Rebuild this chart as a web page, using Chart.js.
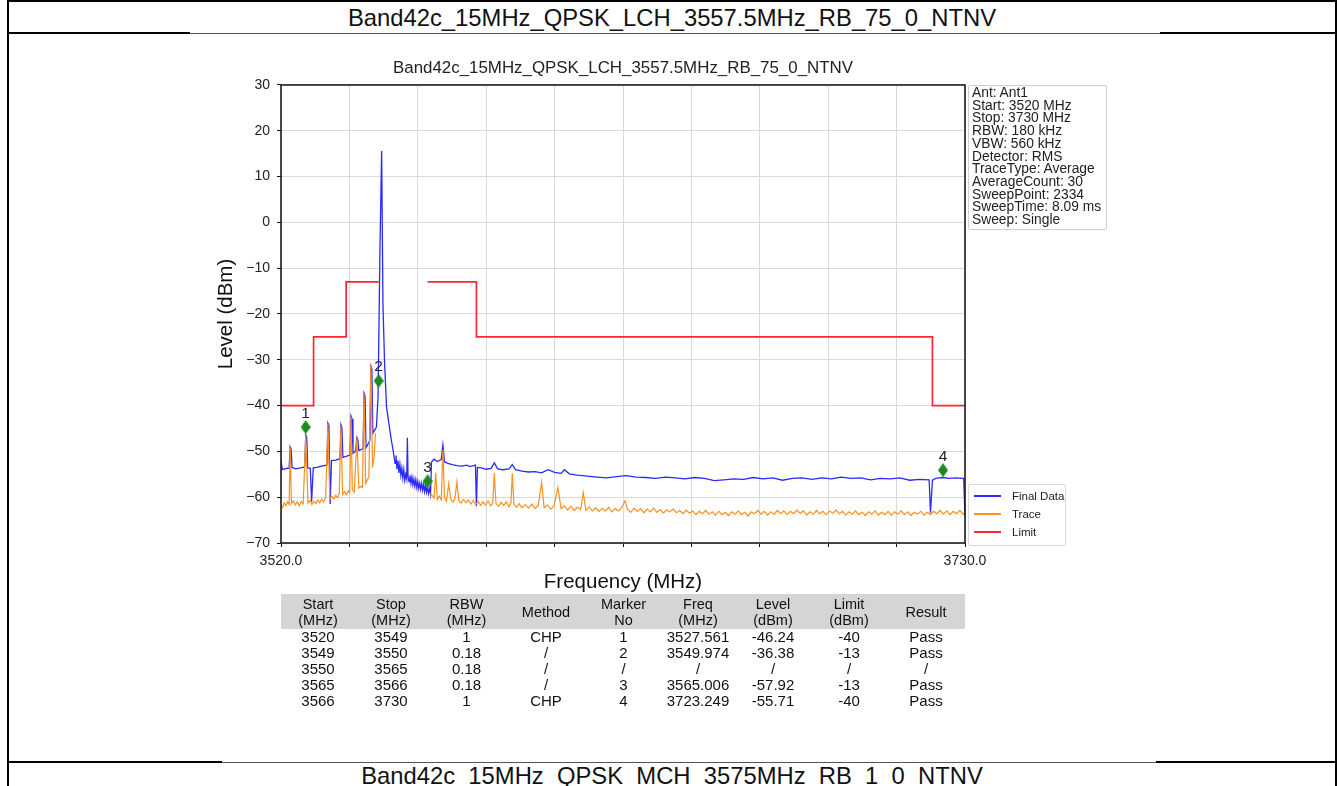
<!DOCTYPE html>
<html>
<head>
<meta charset="utf-8">
<script src="https://cdn.jsdelivr.net/npm/chart.js@4.4.1/dist/chart.umd.min.js"></script>
<style>
  body { margin: 0; background: #fff; font-family: "Liberation Sans", Arial, sans-serif; color: #111; }
  #page { position: relative; width: 1340px; height: 786px; overflow: hidden; background: #fff; }
  .line { position: absolute; background: #000; }
  .doc-title { position: absolute; left: 8px; width: 1328px; text-align: center; font-size: 23.8px; line-height: 26px; }
  #spec { position: absolute; left: 190px; top: 40px; }
  #info { position: absolute; left: 968px; top: 85px; width: 131px; height: 141px; padding: 1px 3px;
          border: 1px solid #cfcfcf; border-radius: 2px; font-size: 13.8px; line-height: 12.7px; color: #222; white-space: nowrap; }
  #legend { position: absolute; left: 968px; top: 484px; width: 96px; height: 60px;
            border: 1px solid #d8d8d8; border-radius: 2px; font-size: 11.5px; color: #222; }
  #legend .item { position: absolute; left: 5px; height: 14px; line-height: 14px; }
  #legend .sw { position: absolute; left: 0; top: 6px; width: 27px; height: 2px; }
  #legend .tx { position: absolute; left: 38px; top: 0; white-space: nowrap; }
  #tbl { position: absolute; left: 281px; top: 594px; width: 684px; border-collapse: collapse; table-layout: fixed;
         font-size: 15px; color: #111; }
  #tbl td { text-align: center; padding: 0; line-height: 16px; height: 16px; white-space: nowrap; }
  #tbl tr.head td { background: #d5d5d5; line-height: 16px; height: 35px; font-size: 14.5px; }
</style>
</head>
<body>
<div id="page">
  <div class="line" style="left:7px;top:0;width:1330px;height:2px"></div>
  <div class="line" style="left:7px;top:0;width:2px;height:786px"></div>
  <div class="line" style="left:1335px;top:0;width:2px;height:786px"></div>
  <div class="doc-title" style="top:5px">Band42c_15MHz_QPSK_LCH_3557.5MHz_RB_75_0_NTNV</div>
  <div class="line" style="left:8px;top:33px;width:1328px;height:1px;background:#555"></div>
  <div class="line" style="left:8px;top:32px;width:182px;height:2px"></div>
  <div class="line" style="left:1160px;top:32px;width:176px;height:2px"></div>
  <div class="line" style="left:8px;top:762px;width:1328px;height:1px;background:#555"></div>
  <div class="line" style="left:8px;top:761px;width:214px;height:2px"></div>
  <div class="line" style="left:1156px;top:761px;width:180px;height:2px"></div>
  <div class="doc-title" style="top:763px">Band42c_15MHz_QPSK_MCH_3575MHz_RB_1_0_NTNV</div>

  <canvas id="spec" width="970" height="560"></canvas>
  <div id="info"></div>
  <div id="legend"></div>
  <table id="tbl"></table>
</div>

<script>
// ---- chart data ----
const chartTitle = "Band42c_15MHz_QPSK_LCH_3557.5MHz_RB_75_0_NTNV";

// Final Data (blue)
const finalFreq = [
  3520.0, 3520.4, 3521.2, 3522.5, 3522.8, 3523.1, 3523.4, 3524.5, 3526.0, 3527.3,
  3527.6, 3527.9, 3528.2, 3529.0, 3529.4, 3529.9, 3531.0, 3532.5, 3534.1, 3534.4,
  3534.7, 3534.9, 3535.1, 3535.5, 3536.8, 3538.1, 3538.4, 3538.7, 3539.0, 3540.0,
  3541.2, 3541.5, 3541.8, 3542.1, 3542.9, 3543.3, 3543.6, 3543.9, 3545.2, 3545.5,
  3545.8, 3546.1, 3547.0, 3547.3, 3547.6, 3547.9, 3548.2, 3548.7, 3549.3, 3549.8,
  3550.4, 3550.9, 3551.3, 3551.8, 3552.4, 3553.1, 3553.8, 3554.4, 3555.0, 3555.3,
  3555.6, 3555.9, 3556.2, 3556.5, 3556.8, 3557.1, 3557.4, 3557.7, 3558.0, 3558.3,
  3558.6, 3558.8, 3559.0, 3559.3, 3559.6, 3559.9, 3560.2, 3560.5, 3560.8, 3561.1,
  3561.4, 3561.7, 3562.0, 3562.3, 3562.6, 3562.9, 3563.2, 3563.5, 3563.8, 3564.1,
  3564.4, 3564.7, 3565.0, 3565.3, 3565.6, 3565.9, 3566.2, 3567.0, 3568.0, 3569.2,
  3569.7, 3570.2, 3571.3, 3572.5, 3574.0, 3575.5, 3577.0, 3578.0, 3579.7, 3580.0,
  3580.3, 3581.5, 3583.0, 3584.5, 3585.5, 3586.5, 3588.0, 3590.0, 3591.0, 3592.0,
  3594.0, 3596.0, 3598.0, 3600.0, 3602.0, 3604.0, 3606.0, 3607.0, 3608.5, 3611.0,
  3614.0, 3617.0, 3620.0, 3623.0, 3626.0, 3629.0, 3632.0, 3635.0, 3638.0, 3641.0,
  3644.0, 3647.0, 3650.0, 3653.0, 3656.0, 3659.0, 3662.0, 3665.0, 3668.0, 3671.0,
  3674.0, 3677.0, 3680.0, 3683.0, 3686.0, 3689.0, 3692.0, 3695.0, 3698.0, 3701.0,
  3704.0, 3707.0, 3710.0, 3713.0, 3716.0, 3719.0, 3719.4, 3720.0, 3721.0, 3722.0,
  3723.2, 3725.0, 3727.0, 3729.6, 3730.0
];
const finalLevel = [
  -52.0, -54.0, -53.8, -53.6, -49.0, -49.5, -53.5, -53.8, -53.6, -53.4,
  -46.4, -46.9, -53.6, -53.7, -61.0, -53.6, -53.5, -53.2, -53.0, -43.8,
  -44.3, -52.6, -61.5, -52.0, -51.9, -51.6, -44.2, -44.8, -51.3, -51.1,
  -50.8, -42.3, -42.9, -50.4, -49.9, -47.0, -47.5, -49.8, -49.4, -37.3,
  -37.9, -49.2, -48.0, -47.5, -31.4, -32.0, -46.0, -45.4, -44.7, -38.0,
  -5.0, 15.6, -18.0, -30.7, -40.3, -43.8, -47.2, -49.7, -52.6, -50.9,
  -53.9, -52.0, -54.7, -52.8, -55.2, -53.6, -55.8, -54.0, -56.3, -55.0,
  -56.0, -47.0, -55.4, -56.6, -55.2, -57.0, -55.6, -57.3, -56.0, -57.6,
  -56.2, -57.9, -56.6, -58.1, -56.9, -58.3, -57.0, -58.5, -57.2, -58.8,
  -57.4, -58.9, -57.8, -59.2, -58.1, -59.3, -52.3, -51.7, -52.2, -51.8,
  -48.6, -52.3, -52.6, -52.9, -53.1, -53.2, -53.0, -53.3, -53.0, -62.0,
  -53.5, -53.6, -53.9, -53.7, -52.5, -53.8, -54.0, -53.8, -52.9, -54.0,
  -54.3, -54.5, -54.4, -54.7, -54.0, -54.6, -54.8, -54.0, -54.9, -55.2,
  -55.4, -55.6, -55.8, -55.5, -55.3, -55.6, -55.7, -55.9, -55.6, -55.8,
  -56.0, -55.7, -55.9, -56.4, -56.2, -56.0, -56.1, -55.7, -56.0, -55.8,
  -56.3, -55.9, -55.8, -56.1, -55.8, -56.0, -55.6, -55.9, -55.8, -56.2,
  -55.9, -56.0, -55.8, -56.3, -56.1, -56.2, -63.4, -56.3, -55.9, -55.8,
  -55.7, -55.9, -55.8, -55.9, -64.0
];

// Trace (orange); null breaks the line between the two segments
const traceFreq = [
  3520.0, 3520.5, 3521.0, 3521.5, 3522.0, 3522.5, 3522.8, 3523.2, 3523.8, 3524.4,
  3525.0, 3525.6, 3526.2, 3526.8, 3527.6, 3528.3, 3528.9, 3529.5, 3530.1, 3530.7,
  3531.3, 3531.9, 3532.5, 3533.1, 3533.7, 3534.4, 3535.0, 3535.6, 3536.2, 3536.8,
  3537.4, 3537.9, 3538.4, 3538.9, 3539.5, 3540.1, 3540.7, 3541.1, 3541.5, 3541.9,
  3542.5, 3543.3, 3543.9, 3544.5, 3545.0, 3545.5, 3546.0, 3546.5, 3547.0, 3547.6,
  3548.1, 3548.6, 3549.0, 3557.0,
  3565.8, 3566.4, 3567.0, 3567.5, 3568.0, 3568.6, 3569.2, 3569.7, 3570.2, 3570.8,
  3571.5, 3572.1, 3572.8, 3573.4, 3574.0, 3574.6, 3575.3, 3576.0, 3576.8, 3577.5,
  3578.3, 3579.0, 3579.8, 3580.5, 3581.3, 3582.0, 3582.8, 3583.6, 3584.4, 3585.0,
  3585.5, 3586.0, 3586.8, 3587.6, 3588.4, 3589.2, 3590.0, 3590.6, 3591.0, 3591.5,
  3592.3, 3593.1, 3594.0, 3595.0, 3596.0, 3597.0, 3598.0, 3599.0, 3600.0, 3600.8,
  3601.8, 3602.8, 3603.8, 3605.0, 3606.0, 3607.0, 3608.0, 3609.0, 3610.0, 3611.0,
  3612.0, 3612.8, 3613.6, 3614.6, 3615.6, 3616.6, 3617.6, 3618.6, 3619.6, 3620.6,
  3621.6, 3622.6, 3623.6, 3624.6, 3625.6, 3626.4, 3627.4, 3628.4, 3629.4, 3630.4,
  3631.4, 3632.4, 3633.4, 3634.4, 3635.4, 3636.4, 3637.4, 3638.4, 3639.4, 3640.4,
  3641.4, 3642.4, 3643.4, 3644.4, 3645.4, 3646.4, 3647.4, 3648.4, 3649.4, 3650.4,
  3651.4, 3652.4, 3653.4, 3654.4, 3655.4, 3656.4, 3657.4, 3658.4, 3659.4, 3660.4,
  3661.4, 3662.4, 3663.4, 3664.4, 3665.4, 3666.4, 3667.4, 3668.4, 3669.4, 3670.4,
  3671.4, 3672.4, 3673.4, 3674.4, 3675.4, 3676.4, 3677.4, 3678.4, 3679.4, 3680.4,
  3681.4, 3682.4, 3683.4, 3684.4, 3685.4, 3686.4, 3687.4, 3688.4, 3689.4, 3690.4,
  3691.4, 3692.4, 3693.4, 3694.4, 3695.4, 3696.4, 3697.4, 3698.4, 3699.4, 3700.4,
  3701.4, 3702.4, 3703.4, 3704.4, 3705.4, 3706.4, 3707.4, 3708.4, 3709.4, 3710.4,
  3711.4, 3712.4, 3713.4, 3714.4, 3715.4, 3716.4, 3717.4, 3718.4, 3719.4, 3720.4,
  3721.4, 3722.4, 3723.4, 3724.4, 3725.4, 3726.4, 3727.4, 3728.4, 3729.4, 3730.0
];
const traceLevel = [
  -61.8, -62.3, -61.2, -61.9, -61.0, -61.6, -49.2, -61.4, -60.8, -61.7,
  -61.0, -61.9, -60.9, -61.5, -46.6, -61.3, -60.7, -61.6, -60.9, -61.4,
  -60.6, -61.2, -60.4, -61.0, -60.2, -44.0, -60.5, -59.8, -60.4, -59.6,
  -60.1, -59.2, -44.5, -59.4, -58.8, -59.5, -58.6, -59.0, -42.5, -58.4,
  -58.9, -47.2, -58.0, -57.6, -57.9, -37.5, -57.0, -56.3, -55.4, -31.0,
  -53.5, -51.0, -46.0, null,
  -59.3, -59.6, -60.2, -54.7, -60.5, -59.8, -60.6, -49.7, -60.1, -60.9,
  -57.0, -60.4, -61.1, -60.3, -56.7, -60.8, -61.3, -60.5, -61.2, -60.6,
  -61.5, -60.7, -61.6, -60.9, -61.8, -61.0, -61.7, -60.8, -61.9, -61.2,
  -54.7, -61.4, -62.0, -61.1, -61.8, -61.0, -62.1, -61.3, -54.8, -61.5,
  -62.2, -61.4, -62.3, -61.6, -62.4, -61.5, -62.5, -61.8, -56.8, -62.3,
  -61.7, -62.6, -61.9, -57.9, -62.5, -61.9, -62.8, -62.0, -62.9, -62.2,
  -62.7, -59.0, -62.9, -62.1, -63.0, -62.3, -63.1, -62.4, -63.0, -62.2,
  -63.2, -62.5, -63.0, -62.3, -60.8, -62.6, -63.3, -62.4, -63.1, -62.5,
  -63.4, -62.6, -63.2, -62.4, -63.3, -62.7, -63.5, -62.8, -63.2, -62.6,
  -63.4, -62.9, -63.6, -62.8, -63.5, -63.0, -63.8, -63.1, -63.6, -62.9,
  -63.7, -63.2, -63.9, -63.1, -63.8, -63.3, -64.0, -63.2, -63.7, -63.0,
  -63.8, -63.3, -64.1, -63.2, -63.6, -62.9, -63.7, -63.1, -63.9, -63.2,
  -63.7, -62.9, -63.6, -63.0, -63.8, -63.1, -63.6, -62.8, -63.5, -63.0,
  -63.9, -63.2, -63.7, -62.9, -63.6, -63.1, -63.8, -63.0, -63.5, -62.8,
  -63.6, -63.1, -63.9, -63.2, -63.7, -63.0, -63.8, -63.3, -64.0, -63.2,
  -63.7, -63.0, -63.9, -63.3, -63.8, -63.1, -63.9, -63.2, -63.7, -63.0,
  -63.8, -63.2, -64.0, -63.3, -63.7, -63.1, -63.9, -63.3, -63.8, -63.1,
  -63.6, -62.9, -63.7, -63.0, -63.8, -63.1, -63.6, -62.9, -63.7, -63.2
];

// Limit (red)
const limitFreq  = [3520, 3530, 3530, 3540, 3540, 3550, 3557.5, 3565, 3580, 3580, 3720, 3720, 3730];
const limitLevel = [-40, -40, -25, -25, -13, -13, null, -13, -13, -25, -25, -40, -40];

// Markers
const markerFreq  = [3527.561, 3549.974, 3565.006, 3723.249];
const markerLevel = [-44.7, -34.6, -56.5, -54.1];
const markerNo    = ["1", "2", "3", "4"];

// side boxes and table
const infoLines = ["Ant: Ant1", "Start: 3520 MHz", "Stop: 3730 MHz", "RBW: 180 kHz", "VBW: 560 kHz",
  "Detector: RMS", "TraceType: Average", "AverageCount: 30", "SweepPoint: 2334", "SweepTime: 8.09 ms", "Sweep: Single"];
const tableHead = ["Start<br>(MHz)", "Stop<br>(MHz)", "RBW<br>(MHz)", "Method", "Marker<br>No",
  "Freq<br>(MHz)", "Level<br>(dBm)", "Limit<br>(dBm)", "Result"];
const tableRows = [
  ["3520", "3549", "1", "CHP", "1", "3527.561", "-46.24", "-40", "Pass"],
  ["3549", "3550", "0.18", "/", "2", "3549.974", "-36.38", "-13", "Pass"],
  ["3550", "3565", "0.18", "/", "/", "/", "/", "/", "/"],
  ["3565", "3566", "0.18", "/", "3", "3565.006", "-57.92", "-13", "Pass"],
  ["3566", "3730", "1", "CHP", "4", "3723.249", "-55.71", "-40", "Pass"]
];
const colWidths = [74, 72, 79, 80, 75, 74, 76, 76, 78];

const blue = "#2a2aff", orange = "#ff8f1f", red = "#ff2438", green = "#1f8a1f";

// ---- html parts ----
document.getElementById("info").innerHTML = infoLines.join("<br>");

const legendItems = [["Final Data", blue], ["Trace", orange], ["Limit", red]];
document.getElementById("legend").innerHTML = legendItems.map((it, i) =>
  '<div class="item" style="top:' + (4 + i * 18) + 'px"><span class="sw" style="background:' + it[1] +
  '"></span><span class="tx">' + it[0] + '</span></div>').join("");

let html = '<colgroup>' + colWidths.map(w => '<col style="width:' + w + 'px">').join("") + '</colgroup>';
html += '<tr class="head">' + tableHead.map(h => '<td>' + h + '</td>').join("") + '</tr>';
tableRows.forEach(r => { html += '<tr>' + r.map(c => '<td>' + c + '</td>').join("") + '</tr>'; });
document.getElementById("tbl").innerHTML = html;

// ---- chart ----
const pts = (xs, ys) => xs.map((x, i) => ({ x: x, y: ys[i] }));

// thin diamond like matplotlib's marker
const diamond = document.createElement("canvas");
diamond.width = 10; diamond.height = 14;
const dctx = diamond.getContext("2d");
dctx.fillStyle = green;
dctx.beginPath();
dctx.moveTo(5, 0); dctx.lineTo(10, 7); dctx.lineTo(5, 14); dctx.lineTo(0, 7);
dctx.closePath();
dctx.fill();

const frame = {
  id: "frame",
  afterDatasetsDraw(chart) {
    const a = chart.chartArea, ctx = chart.ctx;
    ctx.save();
    ctx.strokeStyle = "#111";
    ctx.lineWidth = 1.5;
    ctx.strokeRect(a.left, a.top, a.right - a.left, a.bottom - a.top);
    ctx.restore();
  }
};

const markerLabels = {
  id: "markerLabels",
  afterDraw(chart) {
    const meta = chart.getDatasetMeta(0);
    const ctx = chart.ctx;
    ctx.save();
    ctx.font = '15.5px "Liberation Sans", Arial, sans-serif';
    ctx.fillStyle = "#222";
    ctx.textAlign = "center";
    ctx.textBaseline = "bottom";
    meta.data.forEach((p, i) => ctx.fillText(markerNo[i], p.x, p.y - 6));
    ctx.restore();
  }
};

Chart.defaults.font.family = '"Liberation Sans", Arial, sans-serif';
Chart.defaults.color = "#222";

new Chart(document.getElementById("spec"), {
  type: "line",
  data: {
    datasets: [
      { label: "Marker", data: pts(markerFreq, markerLevel), showLine: false, order: 0,
        pointStyle: diamond, pointRadius: 6, backgroundColor: green, borderColor: green },
      { label: "Limit", data: pts(limitFreq, limitLevel), order: 1,
        borderColor: red, borderWidth: 1.7, pointRadius: 0, spanGaps: false },
      { label: "Trace", data: pts(traceFreq, traceLevel), order: 2,
        borderColor: orange, borderWidth: 1.2, pointRadius: 0, spanGaps: false },
      { label: "Final Data", data: pts(finalFreq, finalLevel), order: 3,
        borderColor: blue, borderWidth: 1.3, pointRadius: 0 }
    ]
  },
  options: {
    responsive: false,
    animation: false,
    events: [],
    layout: { padding: { left: 0, right: 195, top: 0, bottom: 0 } },
    plugins: {
      legend: { display: false },
      tooltip: { enabled: false },
      title: { display: true, text: chartTitle, fullSize: false, color: "#222",
               font: { size: 16.9, weight: "normal" }, padding: { top: 18, bottom: 6.7 } }
    },
    scales: {
      x: {
        type: "linear", min: 3520, max: 3730,
        afterFit: s => { s.height = 57; },
        grid: { color: "#dadada", tickColor: "#111", tickLength: 4 },
        border: { display: false },
        ticks: { stepSize: 21, autoSkip: false, maxRotation: 0, padding: 6, font: { size: 14 }, color: "#222",
                 callback: v => (Math.abs(v - 3520) < 1e-6 || Math.abs(v - 3730) < 1e-6) ? v.toFixed(1) : "" },
        title: { display: true, text: "Frequency (MHz)", font: { size: 20.5 }, color: "#111",
                 padding: { top: 0, bottom: 5.7 } }
      },
      y: {
        min: -70, max: 30,
        afterFit: s => { s.width = 91; },
        grid: { color: "#dadada", tickColor: "#111", tickLength: 4 },
        border: { display: false },
        ticks: { stepSize: 10, padding: 7, font: { size: 14 }, color: "#222",
                 callback: v => String(v).replace("-", "\u2212") },
        title: { display: true, text: "Level (dBm)", font: { size: 20.5 }, color: "#111",
                 padding: { top: 23.7, bottom: 0 } }
      }
    }
  },
  plugins: [frame, markerLabels]
});
</script>
</body>
</html>
